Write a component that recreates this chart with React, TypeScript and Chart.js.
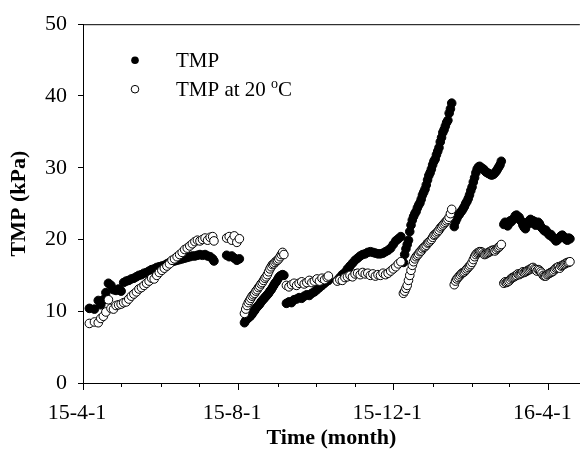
import React, { useEffect, useRef } from 'react';
import { Chart, registerables } from 'chart.js';

Chart.register(...registerables);

// Days since 2015-04-01 (shared sampling dates for both series)
const dayOffsets = [
  // run 1
  5, 9, 12, 14, 16, 18, 20, 22, 24, 26, 28, 30, 32, 34, 36, 38, 40, 42, 44, 46, 48, 50, 52, 54, 56,
  58, 60, 62, 64, 66, 68, 70, 72, 74, 76, 78, 80, 82, 84, 86, 88, 90, 92, 94, 96, 98, 100, 102, 103,
  // run 2
  113, 115, 117, 119, 121, 123,
  // run 3
  127, 128, 129, 130, 131, 132, 133, 134, 135, 136, 137, 138, 139, 140, 141, 142, 143, 144, 145,
  146, 147, 148, 149, 150, 151, 152, 153, 154, 155, 156, 157, 158,
  // run 4
  160, 162, 164, 166, 168, 170, 172, 174, 176, 178, 180, 182, 184, 186, 188, 190, 192, 193,
  // run 5
  200, 202, 204, 206, 208, 210, 212, 214, 216, 218, 220, 222, 224, 226, 228, 230, 232, 234, 236,
  238, 240, 242, 244, 246, 248, 250,
  // run 6
  252, 253, 254, 255, 256, 257, 258, 259, 260, 261, 262, 263, 264, 265, 266, 267, 268, 269, 270,
  271, 272, 273, 274, 275, 276, 277, 278, 279, 280, 281, 282, 283, 284, 285, 286, 287, 288, 289, 290,
  // run 7
  292, 293, 294, 295, 296, 297, 298, 299, 300, 301, 302, 303, 304, 305, 306, 307, 308, 309, 310,
  311, 312, 313, 314, 315, 316, 317, 318, 319, 320, 321, 322, 323, 324, 325, 326, 327, 328, 329,
  // run 8
  331, 332, 333, 334, 335, 336, 337, 338, 339, 340, 341, 342, 343, 344, 345, 346, 347, 348, 349,
  350, 351, 352, 353, 354, 355, 356, 357, 358, 359, 360, 361, 362, 363, 364, 365, 366, 367, 368,
  369, 370, 371, 372, 373, 374, 375, 376, 377, 378, 379, 380, 381, 382, 383,
];

// TMP (kPa)
const tmpKPa = [
  // run 1
  10.4, 10.3, 11.5, 10.9, 11.6, 12.6, 13.9, 13.6, 13.0, 12.9, 13.1, 12.8, 14.0, 14.2, 14.3, 14.5,
  14.6, 14.8, 15.0, 15.1, 15.3, 15.4, 15.6, 15.8, 15.9, 16.1, 16.2, 16.3, 16.4, 16.6, 16.8, 16.9,
  17.0, 17.1, 17.2, 17.3, 17.4, 17.5, 17.6, 17.7, 17.7, 17.8, 17.9, 17.8, 17.9, 17.7, 17.6, 17.3, 17.0,
  // run 2
  17.8, 17.6, 17.7, 17.4, 17.1, 17.3,
  // run 3
  8.4, 8.7, 8.9, 9.1, 9.2, 9.4, 9.6, 9.9, 10.1, 10.4, 10.6, 10.8, 11.0, 11.3, 11.5, 11.7, 11.9,
  12.1, 12.3, 12.5, 12.8, 13.0, 13.3, 13.6, 13.9, 14.1, 14.4, 14.7, 14.9, 15.0, 15.1, 15.0,
  // run 4
  11.1, 11.3, 11.2, 11.6, 11.7, 11.9, 11.8, 12.1, 12.3, 12.2, 12.5, 12.7, 13.0, 13.3, 13.6, 13.9, 14.2, 14.3,
  // run 5
  14.3, 14.7, 15.1, 15.4, 15.9, 16.3, 16.7, 17.1, 17.4, 17.7, 17.9, 18.0, 18.2, 18.3, 18.2, 18.1,
  18.0, 18.0, 18.1, 18.3, 18.5, 18.8, 19.3, 19.8, 20.1, 20.4,
  // run 6
  16.8, 17.9, 18.7, 19.3, 19.9, 21.1, 22.0, 22.7, 23.2, 23.6, 23.9, 24.4, 24.8, 25.1, 25.6, 26.2,
  26.6, 27.0, 27.6, 28.3, 28.9, 29.3, 29.8, 30.4, 30.9, 31.2, 31.8, 32.3, 32.8, 33.6, 34.2, 34.9,
  35.3, 35.8, 36.3, 36.6, 37.6, 38.2, 39.0,
  // run 7
  21.8, 22.5, 22.9, 23.3, 23.5, 23.8, 24.0, 24.3, 24.6, 25.0, 25.3, 25.7, 26.2, 26.8, 27.3, 28.0,
  28.6, 29.3, 29.8, 30.1, 30.2, 30.0, 29.9, 29.8, 29.6, 29.4, 29.3, 29.2, 29.1, 29.0, 29.0, 29.1,
  29.3, 29.5, 29.8, 30.1, 30.4, 30.9,
  // run 8
  22.1, 22.4, 22.3, 21.9, 22.2, 22.6, 22.5, 22.8, 22.9, 23.3, 23.4, 23.0, 23.1, 22.7, 22.5, 22.0,
  21.7, 21.5, 22.0, 22.4, 22.6, 22.8, 22.3, 22.6, 22.5, 22.0, 22.1, 22.4, 22.2, 21.8, 21.6, 21.4,
  21.2, 21.3, 21.0, 20.8, 20.6, 20.7, 20.4, 20.2, 20.1, 19.8, 19.9, 20.1, 20.3, 20.5, 20.6, 20.4,
  20.2, 20.0, 19.9, 20.2, 20.1,
];

// TMP corrected to 20 °C (kPa)
const tmp20KPa = [
  // run 1
  8.3, 8.5, 8.4, 9.0, 9.3, 9.9, 11.6, 10.4, 10.3, 10.8, 10.9, 11.0, 11.2, 11.3, 11.7, 12.1, 12.4,
  12.7, 13.1, 13.3, 13.6, 13.9, 14.2, 14.6, 14.5, 15.0, 15.4, 15.7, 16.0, 16.3, 16.6, 17.1, 17.3,
  17.6, 17.9, 18.2, 18.6, 18.8, 19.1, 19.4, 19.7, 19.9, 19.8, 20.0, 20.2, 19.9, 20.3, 20.4, 19.8,
  // run 2
  20.2, 20.4, 19.9, 20.5, 19.6, 20.1,
  // run 3
  9.7, 10.3, 10.8, 11.2, 11.5, 11.8, 12.1, 12.3, 12.5, 12.8, 13.0, 13.3, 13.5, 13.8, 14.0, 14.3,
  14.6, 14.8, 15.1, 15.5, 15.9, 16.2, 16.5, 16.6, 16.8, 17.0, 17.1, 17.3, 17.6, 17.9, 18.2, 17.9,
  // run 4
  13.6, 13.4, 13.7, 13.9, 13.6, 13.9, 14.1, 13.8, 14.0, 14.3, 14.0, 14.2, 14.5, 14.2, 14.6, 14.4, 14.7, 14.9,
  // run 5
  14.2, 14.4, 14.3, 14.7, 14.8, 15.0, 14.8, 15.2, 15.3, 15.1, 15.4, 15.2, 15.3, 15.0, 15.2, 14.9,
  15.1, 15.0, 15.3, 15.1, 15.3, 15.6, 15.9, 16.2, 16.6, 16.9,
  // run 6
  12.5, 12.8, 13.2, 13.6, 14.3, 15.0, 15.7, 16.4, 16.9, 17.3, 17.6, 17.8, 18.0, 18.3, 18.4, 18.7,
  18.9, 19.0, 19.2, 19.5, 19.6, 19.8, 20.0, 20.3, 20.6, 20.7, 20.9, 21.1, 21.3, 21.6, 21.8, 22.0,
  22.2, 22.4, 22.6, 22.8, 23.1, 23.6, 24.2,
  // run 7
  13.7, 14.2, 14.5, 14.7, 14.9, 15.1, 15.3, 15.4, 15.5, 15.7, 15.9, 16.1, 16.3, 16.5, 16.8, 17.2,
  17.6, 17.9, 18.1, 18.2, 18.3, 18.3, 18.2, 18.0, 17.9, 18.0, 18.1, 18.2, 18.3, 18.4, 18.5, 18.5,
  18.4, 18.6, 18.8, 18.9, 19.1, 19.3,
  // run 8
  13.9, 14.1, 14.0, 14.1, 14.2, 14.4, 14.6, 14.7, 14.8, 14.9, 15.0, 15.2, 15.1, 15.2, 15.3, 15.5,
  15.4, 15.5, 15.6, 15.7, 15.8, 15.9, 16.0, 16.1, 15.9, 15.8, 15.6, 15.8, 15.7, 15.5, 15.3, 15.0,
  14.9, 14.9, 15.1, 15.2, 15.3, 15.4, 15.5, 15.6, 15.8, 16.0, 16.1, 16.2, 16.0, 16.3, 16.4, 16.5,
  16.6, 16.7, 16.8, 16.8, 16.9,
];

// Month starts (days since 2015-04-01), Apr 2015 .. Apr 2016
const monthTickDays = [0, 30, 61, 91, 122, 153, 183, 214, 244, 275, 306, 335, 366];
const labeledTickDays = [0, 122, 244, 366];
const xTickLabels = ['15-4-1', '15-8-1', '15-12-1', '16-4-1'];
const yTickValues = [0, 10, 20, 30, 40, 50];
const xMaxDay = 390.8;

const FONT = "'Liberation Serif', 'Times New Roman', serif";

const decorPlugin = {
  id: 'decor',
  afterDraw(chart: any) {
    const { ctx, chartArea } = chart;
    const xs = chart.scales.x;
    ctx.save();
    // top frame line
    ctx.strokeStyle = '#000';
    ctx.lineWidth = 1;
    ctx.beginPath();
    ctx.moveTo(chartArea.left, chartArea.top + 0.5);
    ctx.lineTo(chartArea.right, chartArea.top + 0.5);
    ctx.stroke();
    // minor monthly ticks
    monthTickDays.forEach((d) => {
      if (labeledTickDays.includes(d)) return;
      const px = Math.round(xs.getPixelForValue(d)) + 0.5;
      ctx.beginPath();
      ctx.moveTo(px, chartArea.bottom);
      ctx.lineTo(px, chartArea.bottom + 4);
      ctx.stroke();
    });
    // legend
    const lx = chartArea.left + 52;
    const ly1 = chartArea.top + 36;
    const ly2 = chartArea.top + 65;
    ctx.fillStyle = '#000';
    ctx.beginPath();
    ctx.arc(lx, ly1, 3.8, 0, Math.PI * 2);
    ctx.fill();
    ctx.beginPath();
    ctx.arc(lx, ly2, 3.8, 0, Math.PI * 2);
    ctx.fillStyle = '#fff';
    ctx.fill();
    ctx.strokeStyle = '#000';
    ctx.stroke();
    ctx.fillStyle = '#000';
    ctx.textBaseline = 'middle';
    ctx.textAlign = 'left';
    ctx.font = `21px ${FONT}`;
    const tx = chartArea.left + 93;
    ctx.fillText('TMP', tx, ly1 + 1);
    const main = 'TMP at 20 ';
    ctx.fillText(main, tx, ly2 + 1);
    const w = ctx.measureText(main).width;
    ctx.font = `14px ${FONT}`;
    ctx.fillText('o', tx + w, ly2 - 5);
    const w2 = ctx.measureText('o').width;
    ctx.font = `21px ${FONT}`;
    ctx.fillText('C', tx + w + w2, ly2 + 1);
    ctx.restore();
  },
};

export default function App() {
  const canvasRef = useRef<HTMLCanvasElement | null>(null);

  useEffect(() => {
    document.body.style.margin = '0';
    const canvas = canvasRef.current;
    if (!canvas) return;

    const tmpPoints = dayOffsets.map((d, i) => ({ x: d, y: tmpKPa[i] }));
    const tmp20Points = dayOffsets.map((d, i) => ({ x: d, y: tmp20KPa[i] }));

    const chart = new Chart(canvas, {
      type: 'scatter',
      data: {
        datasets: [
          {
            label: 'TMP',
            data: tmpPoints,
            backgroundColor: '#000',
            borderColor: '#000',
            borderWidth: 1,
            pointRadius: 4.3,
            order: 2,
          },
          {
            label: 'TMP at 20 °C',
            data: tmp20Points,
            backgroundColor: '#fff',
            borderColor: '#000',
            borderWidth: 1,
            pointRadius: 4.3,
            order: 1,
          },
        ],
      },
      options: {
        animation: false,
        responsive: false,
        maintainAspectRatio: false,
        layout: { padding: { top: 19, left: 0, right: 0, bottom: 0 } },
        plugins: {
          legend: { display: false },
          tooltip: { enabled: false },
        },
        scales: {
          x: {
            type: 'linear',
            min: 0,
            max: xMaxDay,
            afterBuildTicks: (scale: any) => {
              scale.ticks = monthTickDays.map((v) => ({ value: v }));
            },
            afterFit: (scale: any) => {
              scale.height = 82;
            },
            ticks: {
              autoSkip: false,
              maxRotation: 0,
              minRotation: 0,
              padding: 10,
              labelOffset: -6,
              color: '#000',
              font: { family: FONT, size: 22 },
              callback: (value: any) => {
                const idx = labeledTickDays.indexOf(Number(value));
                return idx >= 0 ? xTickLabels[idx] : '';
              },
            },
            grid: {
              display: true,
              drawOnChartArea: false,
              drawTicks: true,
              tickLength: 7,
              tickWidth: 1,
              tickColor: (ctx: any) =>
                ctx.tick && labeledTickDays.includes(ctx.tick.value) ? '#000' : 'rgba(0,0,0,0)',
            },
            border: { display: true, color: '#000', width: 1 },
            title: {
              display: true,
              text: 'Time (month)',
              color: '#000',
              font: { family: FONT, size: 22, weight: 'bold' },
              padding: { top: 0, bottom: 13 },
            },
          },
          y: {
            type: 'linear',
            min: 0,
            max: 50,
            afterBuildTicks: (scale: any) => {
              scale.ticks = yTickValues.map((v) => ({ value: v }));
            },
            afterFit: (scale: any) => {
              scale.width = 83;
            },
            ticks: {
              padding: 11,
              color: '#000',
              font: { family: FONT, size: 22 },
            },
            grid: {
              display: true,
              drawOnChartArea: false,
              drawTicks: true,
              tickLength: 5,
              tickWidth: 1,
              tickColor: '#000',
            },
            border: { display: true, color: '#000', width: 1 },
            title: {
              display: true,
              text: 'TMP (kPa)',
              color: '#000',
              font: { family: FONT, size: 22, weight: 'bold' },
              padding: { top: 6, bottom: 0 },
            },
          },
        },
      },
      plugins: [decorPlugin],
    } as any);

    return () => {
      chart.destroy();
    };
  }, []);

  return (
    <div style={{ width: 588, height: 465, background: '#fff' }}>
      <canvas ref={canvasRef} width={588} height={465} style={{ display: 'block' }} />
    </div>
  );
}
